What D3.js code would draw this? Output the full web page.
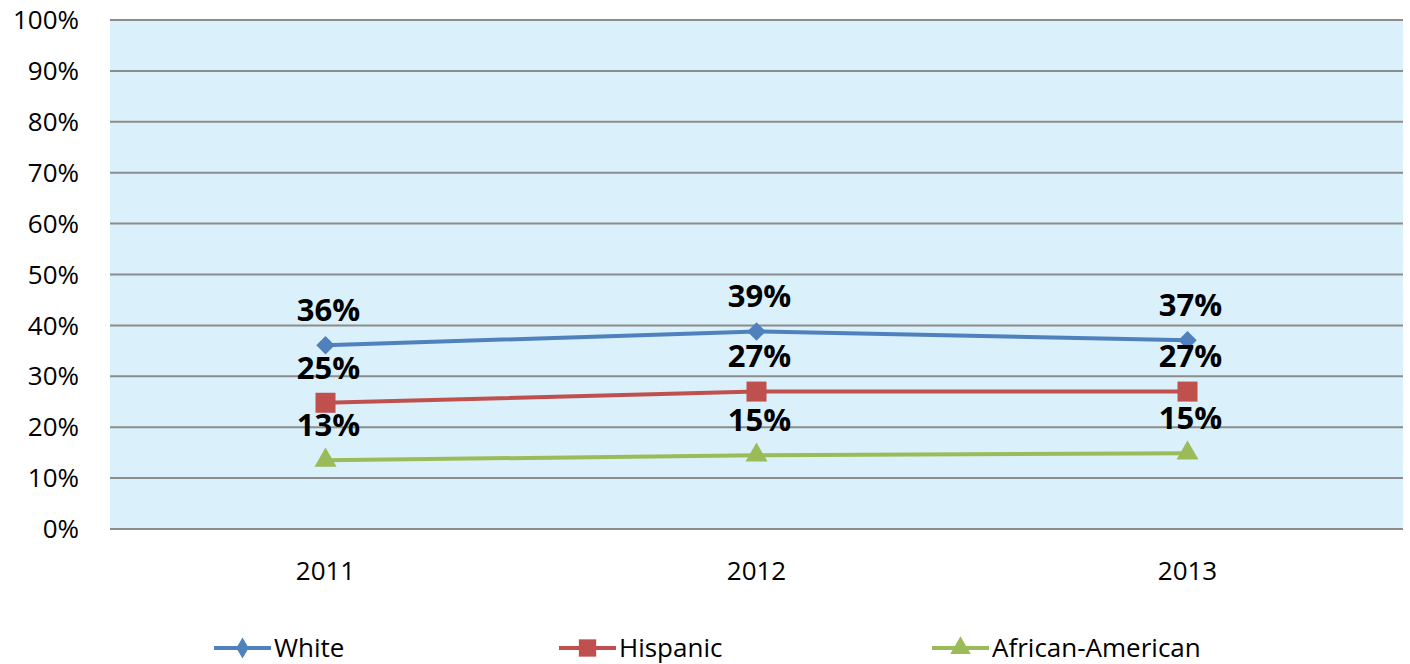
<!DOCTYPE html>
<html><head><meta charset="utf-8">
<script src="https://cdn.jsdelivr.net/npm/d3@7/dist/d3.min.js"></script>
<style>body{margin:0;background:#fff}</style>
</head><body>
<svg id="c" width="1410" height="664"></svg>
<script>
const years = ["2011","2012","2013"];
const white = [36.1, 38.8, 37.1];
const hispanic = [24.8, 27.0, 27.0];
const africanAmerican = [13.5, 14.5, 14.9];
const whiteLabels = ["36%","39%","37%"];
const hispanicLabels = ["25%","27%","27%"];
const aaLabels = ["13%","15%","15%"];
const yTicks = [0,10,20,30,40,50,60,70,80,90,100];

const series = [
  {name:"White", values:white, labels:whiteLabels, color:"#4f81bd", shape:"diamond"},
  {name:"Hispanic", values:hispanic, labels:hispanicLabels, color:"#c0504d", shape:"square"},
  {name:"African-American", values:africanAmerican, labels:aaLabels, color:"#9bbb59", shape:"triangle"}
];

const svg = d3.select("#c");
const L=110, R=1403, T=20, B=529;
const x = d3.scaleBand().domain(years).range([L,R]);
const y = d3.scaleLinear().domain([0,100]).range([B,T]);
const font = "'Open Sans', 'Liberation Sans', Arial, sans-serif";

svg.append("rect").attr("x",L).attr("y",T).attr("width",R-L).attr("height",B-T).attr("fill","#daf0fa");

svg.append("g").selectAll("line").data(yTicks).join("line")
  .attr("x1",L).attr("x2",R).attr("y1",d=>y(d)).attr("y2",d=>y(d))
  .attr("stroke","#8c8c8c").attr("stroke-width",2);

svg.append("g").selectAll("text").data(yTicks).join("text")
  .attr("x",79).attr("y",d=>y(d)).attr("dy","0.35em").attr("text-anchor","end")
  .attr("font-family",font).attr("font-size",26).attr("fill","#000")
  .text(d=>d+"%");

svg.append("g").selectAll("text").data(years).join("text")
  .attr("x",d=>x(d)+x.bandwidth()/2).attr("y",571).attr("dy","0.35em").attr("text-anchor","middle")
  .attr("font-family",font).attr("font-size",26).attr("fill","#000")
  .text(d=>d);

const sym = {
  diamond: d3.symbol().type(d3.symbolSquare).size(170),
  square: d3.symbol().type(d3.symbolSquare).size(400),
  triangle: d3.symbol().type(d3.symbolTriangle).size(210)
};
const rot = {diamond:45, square:0, triangle:0};

const line = d3.line().x((d,i)=>x(years[i])+x.bandwidth()/2).y(d=>y(d));
series.forEach(s=>{
  svg.append("path").attr("d",line(s.values)).attr("fill","none")
    .attr("stroke",s.color).attr("stroke-width",4).attr("stroke-linejoin","round");
  svg.append("g").selectAll("path").data(s.values).join("path")
    .attr("transform",(d,i)=>`translate(${x(years[i])+x.bandwidth()/2},${y(d)}) rotate(${rot[s.shape]})`)
    .attr("d",sym[s.shape]()).attr("fill",s.color);
  svg.append("g").selectAll("text").data(s.values).join("text")
    .attr("x",(d,i)=>x(years[i])+x.bandwidth()/2+3).attr("y",d=>y(d)-35).attr("dy","0.35em")
    .attr("text-anchor","middle").attr("font-family",font).attr("font-weight","bold")
    .attr("font-size",31).attr("fill","#000").text((d,i)=>s.labels[i]);
});

// legend
const legX = [214, 559, 932];
const legSym = {
  diamond: d3.symbol().type(d3.symbolDiamond).size(130),
  square: d3.symbol().type(d3.symbolSquare).size(300),
  triangle: d3.symbol().type(d3.symbolTriangle).size(180)
};
series.forEach((s,i)=>{
  const g = svg.append("g").attr("transform",`translate(${legX[i]},648)`);
  g.append("line").attr("x1",0).attr("x2",57).attr("stroke",s.color).attr("stroke-width",4);
  g.append("path").attr("transform","translate(28.5,0)").attr("d",legSym[s.shape]()).attr("fill",s.color);
  g.append("text").attr("x",60).attr("dy","0.35em").attr("font-family",font)
    .attr("font-size",26).attr("fill","#000").text(s.name);
});
</script>
</body></html>
